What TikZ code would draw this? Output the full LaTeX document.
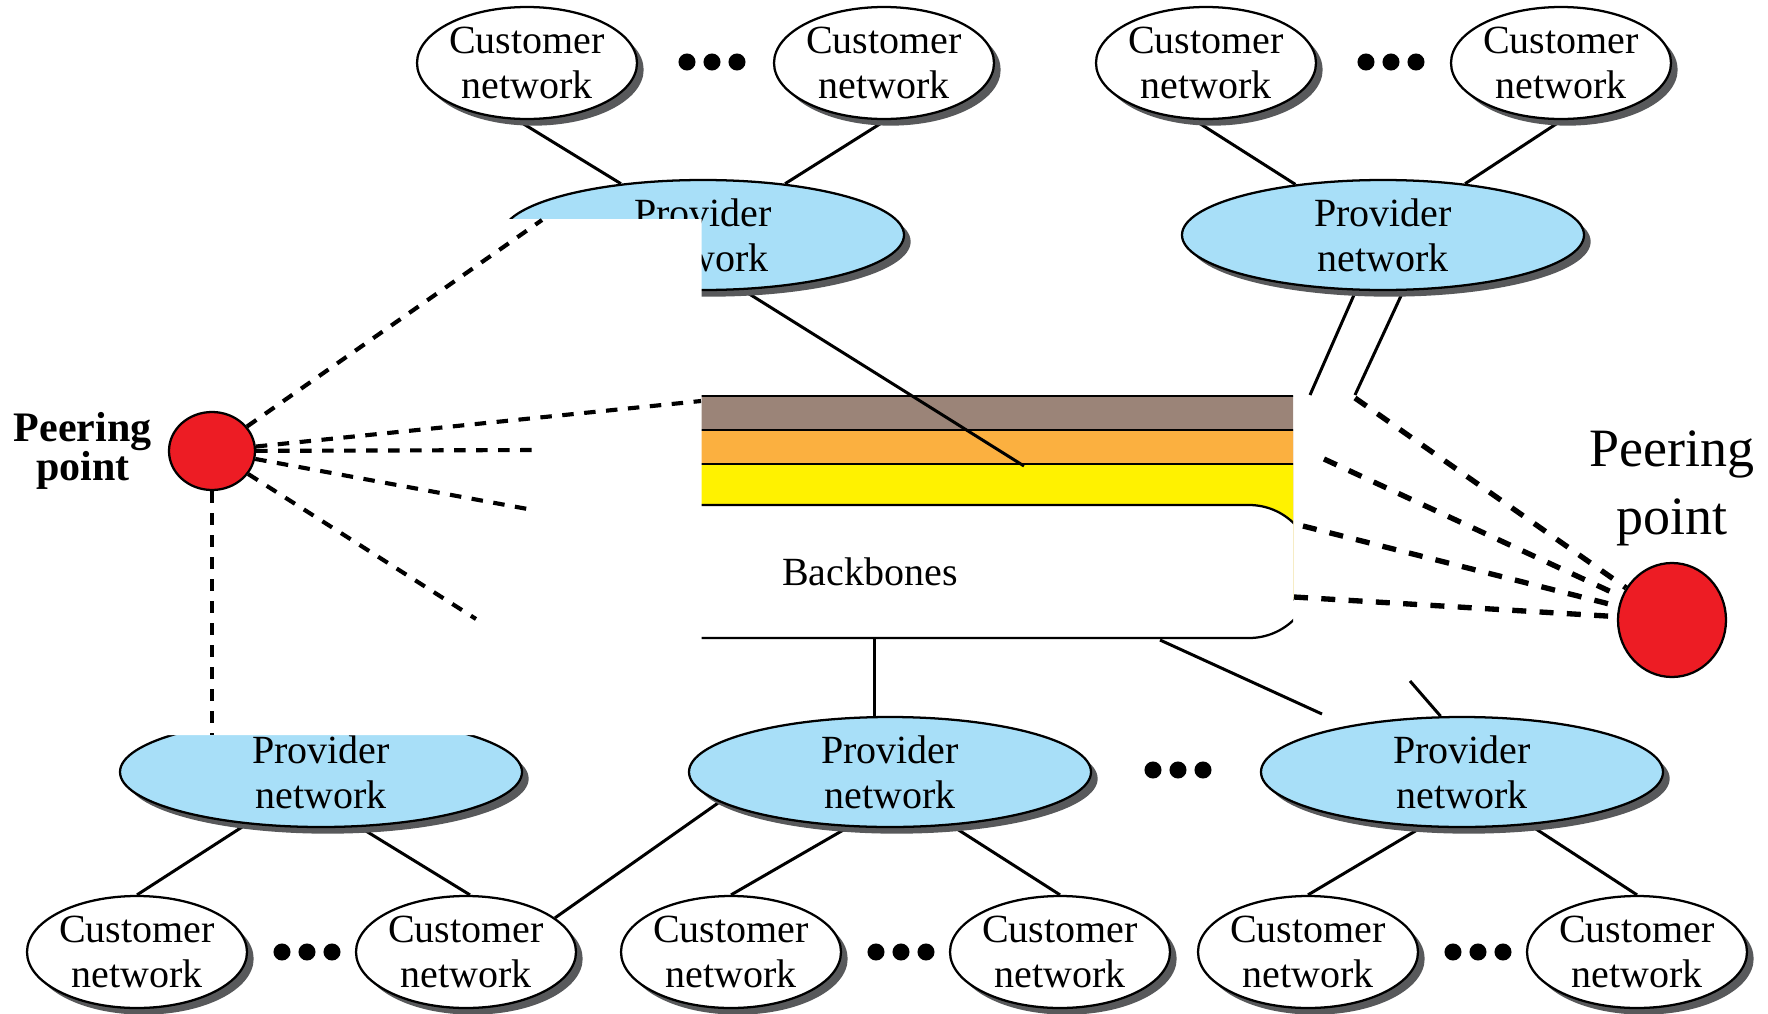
\documentclass[tikz,border=0pt]{standalone}
\usepackage{fontspec}
\setmainfont{Liberation Serif}
\usetikzlibrary{shapes.geometric,shadows,positioning}

\definecolor{provblue}{RGB}{168,223,248}
\definecolor{peerred}{RGB}{237,28,36}
\definecolor{shadowgray}{RGB}{88,89,91}
\definecolor{bbbrown}{RGB}{155,132,120}
\definecolor{bborange}{RGB}{251,176,64}
\definecolor{bbyellow}{RGB}{255,242,0}

\newcommand{\netfont}{\fontsize{30}{33.75}\selectfont}

\pgfdeclarelayer{bbone}
\pgfdeclarelayer{links}
\pgfsetlayers{bbone,links,main}

\tikzset{every picture/.style={line width=0.75pt}}
\tikzset{
  custnet/.style={ellipse, draw, line width=1.7pt, fill=white, minimum width=162pt, minimum height=84pt, inner sep=0pt, align=center, font=\netfont,
    drop shadow={shadow xshift=5pt, shadow yshift=-5pt, fill=shadowgray, opacity=1}},
  provnet/.style={custnet, fill=provblue, minimum width=301.5pt, minimum height=82.5pt},
  peer/.style={ellipse, draw, line width=1.7pt, fill=peerred, inner sep=0pt},
  link/.style={line width=2.25pt},
  peerlink/.style={line width=3.1pt, dash pattern=on 8.6pt off 7.9pt},
  peerlinkr/.style={line width=4pt, dash pattern=on 10.5pt off 10pt},
}

\begin{document}
\begin{tikzpicture}[x=0.75pt,y=0.75pt,yscale=-1,xscale=1]
\useasboundingbox (0,0) rectangle (1768,1014);

%Backbones
\begin{pgfonlayer}{bbone}
\begin{scope}
\clip (650,380) rectangle (1293,660);
\draw[line width=1.5pt, fill=bbbrown] (650,396) rectangle (1340,600);
\draw[line width=1.5pt, fill=bborange] (650,430) rectangle (1340,600);
\draw[line width=1.5pt, fill=bbyellow] (650,464) rectangle (1340,600);
\draw[line width=1.7pt, fill=white, rounded corners=48pt] (600,505) rectangle (1313,638);
\end{scope}
\end{pgfonlayer}
\node[font=\netfont] (bbtext) at (870,572) {Backbones};

% free ends of the connectors
\coordinate (bbl) at (1024,466);
\coordinate (bbm) at (874,638);
\coordinate (bbr) at (1160,640);
\coordinate (pb3end) at (1322,714);
\coordinate (pb3start) at (1410,681);
\coordinate (pt2a) at (1310,395);
\coordinate (pt2b) at (1355,395);

% Customer networks, top
\node[custnet] (ct1) at (527,63) {Customer\\network};
\node[custnet] (ct2) at (884,63) {Customer\\network};
\node[custnet] (ct3) at (1206,63) {Customer\\network};
\node[custnet] (ct4) at (1561,63) {Customer\\network};
% Provider networks
\node[provnet] (pt1) at (703,235) {Provider\\network};
\node[provnet] (pt2) at (1383,235) {Provider\\network};
\node[provnet] (pb1) at (321,772) {Provider\\network};
\node[provnet] (pb2) at (890,772) {Provider\\network};
\node[provnet] (pb3) at (1462,772) {Provider\\network};
% Customer networks, bottom
\node[custnet] (cb1) at (137,952) {Customer\\network};
\node[custnet] (cb2) at (466,952) {Customer\\network};
\node[custnet] (cb3) at (731,952) {Customer\\network};
\node[custnet] (cb4) at (1060,952) {Customer\\network};
\node[custnet] (cb5) at (1308,952) {Customer\\network};
\node[custnet] (cb6) at (1637,952) {Customer\\network};

% Peering points
\node[peer, minimum width=64.5pt, minimum height=58.5pt] (ppl) at (212,451) {};
\node[peer, minimum width=81pt, minimum height=85.5pt] (ppr) at (1672,620) {};
\node[font=\bfseries\fontsize{31.5}{28.5}\selectfont, align=center, inner sep=0pt, left=12pt of ppl] (ppltext) {Peering\\point};
\node[font=\fontsize{40.5}{51}\selectfont, align=center, inner sep=0pt, above=12pt of ppr] (pprtext) {Peering\\point};

% Links
\begin{pgfonlayer}{links}
\draw[link] (ct1.-100) -- (pt1.148);
\draw[link] (ct2.-88) -- (pt1.32);
\draw[link] (ct3.-102) -- (pt2.150);
\draw[link] (ct4.-89) -- (pt2.32);
\draw[link] (pt1.-54) -- (bbl);
\draw[link] (pt2.-116) -- (pt2a);
\draw[link] (pt2.-70) -- (pt2b);
\draw[link] (bbm) -- (bbm |- pb2.north);
\draw[link] (bbr) -- (pb3end);
\draw[link] (pb3start) -- (pb3.111);
\draw[link] (pb1.-145) -- (cb1.north);
\draw[link] (pb1.-55) -- (cb2.86);
\draw[link] (cb2.21) -- (pb2.-170);
\draw[link] (pb2.-127) -- (cb3.north);
\draw[link] (pb2.-41) -- (cb4.north);
\draw[link] (pb3.-126) -- (cb5.north);
\draw[link] (pb3.-38) -- (cb6.north);
\end{pgfonlayer}

% Dots
\foreach \cx/\cy in {712/62, 1391/62, 1178/770, 307/952, 901/952, 1478/952}
  \foreach \dx in {-25,0,25}
    \fill (\cx+\dx,\cy) circle (6.4pt);

% erased part
\fill[white] (480,219) -- (701.5,219) -- (701.5,735) -- (100,735) -- (476,619) -- (533,510) -- (541,450) -- cycle;

% Peering links, left
\coordinate (l1) at (542,220);
\coordinate (l2) at (701,401);
\coordinate (l3) at (541,450);
\coordinate (l4) at (533,510);
\coordinate (l5) at (476,619);
\coordinate (l6) at (212,735);
\foreach \i in {1,...,6}
  \draw[peerlink] (ppl) -- (l\i);

% Peering links, right
\coordinate (r1) at (1355,398);
\coordinate (r2) at (1324,459);
\coordinate (r3) at (1303,526);
\coordinate (r4) at (1294,597);
\foreach \i in {1,...,4}
  \draw[peerlinkr] (r\i) -- (ppr);

\end{tikzpicture}
\end{document}
